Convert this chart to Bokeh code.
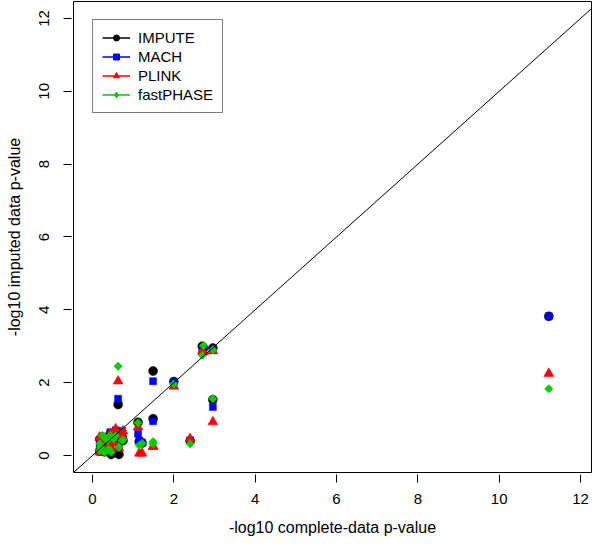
import math
from bokeh.plotting import figure
from bokeh.models import Range1d, FixedTicker, Legend, LegendItem, Slope
from bokeh.embed import file_html
from bokeh.resources import INLINE

# ---- data ----
methods = ["IMPUTE", "MACH", "PLINK", "fastPHASE"]
complete_p = [11.22, 2.96, 2.70, 2.73, 2.96, 2.40, 2.00, 1.49, 1.49, 1.12, 1.15, 1.22, 0.63, 0.65,
              0.46, 0.18, 0.20, 0.18, 0.44, 0.75, 0.73, 0.57, 0.36, 0.28, 0.40, 0.52, 0.24, 0.30]
impute = [3.82, 2.95, 3.00, 2.95, 1.53, 0.40, 2.03, 2.32, 1.01, 0.91, 0.38, 0.34, 1.40, 0.03,
          0.03, 0.45, 0.25, 0.12, 0.60, 0.41, 0.50, 0.55, 0.30, 0.48, 0.20, 0.40, 0.50, 0.10]
mach = [3.82, 2.90, 2.92, 2.88, 1.33, 0.42, 2.02, 2.04, 0.94, 0.60, 0.41, 0.36, 1.56, 0.20,
        0.10, 0.40, 0.22, 0.10, 0.64, 0.45, 0.67, 0.69, 0.28, 0.45, 0.22, 0.42, 0.52, 0.12]
plink = [2.25, 2.87, 2.86, 2.84, 0.92, 0.46, 1.90, 0.25, 0.24, 0.78, 0.06, 0.06, 2.04, 0.20,
         0.23, 0.50, 0.27, 0.09, 0.60, 0.67, 0.55, 0.73, 0.18, 0.40, 0.27, 0.37, 0.46, 0.14]
fastphase = [1.83, 2.90, 2.75, 3.02, 1.56, 0.32, 1.96, 0.33, 0.38, 0.90, 0.28, 0.33, 2.45, 0.23,
             0.09, 0.32, 0.23, 0.14, 0.55, 0.43, 0.41, 0.55, 0.41, 0.52, 0.18, 0.46, 0.55, 0.08]
x_ticks = [0, 2, 4, 6, 8, 10, 12]
y_ticks = [0, 2, 4, 6, 8, 10, 12]
x_title = "-log10 complete-data p-value"
y_title = "-log10 imputed data p-value"

# ---- styles ----
FONT = "Liberation Sans"
colors = ["#000000", "#0000FF", "#FF0000", "#00CD00"]
markers = ["circle", "square", "triangle", "square"]
legend_markers = ["circle", "square", "triangle", "diamond"]
sizes = [9, 7, 10, 6]
angles = [0, 0, 0, math.pi / 4]
series = [impute, mach, plink, fastphase]
NAN = float("nan")

p = figure(width=592, height=540, output_backend="svg", toolbar_location=None,
           x_range=Range1d(-0.467, 12.27), y_range=Range1d(-0.467, 12.466),
           min_border_left=73, min_border_right=1, min_border_top=1, min_border_bottom=68)
p.background_fill_color = "white"
p.border_fill_color = "white"
p.outline_line_color = "black"
p.outline_line_width = 1
p.outline_line_alpha = 1
p.xgrid.visible = False
p.ygrid.visible = False

for ax, ticks, title in ((p.xaxis[0], x_ticks, x_title), (p.yaxis[0], y_ticks, y_title)):
    ax.ticker = FixedTicker(ticks=ticks)
    ax.axis_label = title
    ax.axis_line_color = None
    ax.minor_tick_line_color = None
    ax.major_tick_line_color = "black"
    ax.major_tick_in = -2
    ax.major_tick_out = 10
    ax.major_label_text_font = FONT
    ax.major_label_text_font_size = "15px"
    ax.major_label_text_color = "black"
    ax.axis_label_text_font = FONT
    ax.axis_label_text_font_size = "16px"
    ax.axis_label_text_font_style = "normal"
    ax.axis_label_text_color = "black"

p.xaxis.major_label_standoff = 11
p.xaxis.axis_label_standoff = 12
p.yaxis.major_label_standoff = 14
p.yaxis.major_label_orientation = "parallel"
p.yaxis.axis_label_standoff = 14

items = []
for name, ys, c, m, lm, s, a in zip(methods, series, colors, markers, legend_markers, sizes, angles):
    p.scatter(x=complete_p, y=ys, marker=m, size=s, angle=a,
              fill_color=c, line_color=c, line_width=0.5)
    lr = p.line(x=[NAN], y=[NAN], line_color=c, line_width=1.5)
    kr = p.scatter(x=[NAN], y=[NAN], marker=lm, size=s, fill_color=c, line_color=c)
    items.append(LegendItem(label=name, renderers=[lr, kr]))

p.add_layout(Slope(gradient=1, y_intercept=0, line_color="black", line_width=1))

legend = Legend(items=items, location=(19, 359))
legend.border_line_color = "black"
legend.border_line_width = 1
legend.background_fill_color = "white"
legend.background_fill_alpha = 1
legend.padding = 9
legend.spacing = 2
legend.margin = 0
legend.glyph_width = 28
legend.glyph_height = 15
legend.label_height = 15
legend.label_standoff = 8
legend.label_text_font = FONT
legend.label_text_font_size = "15px"
legend.label_text_color = "black"
p.add_layout(legend)

open("out.html", "w").write(file_html(p, INLINE))
